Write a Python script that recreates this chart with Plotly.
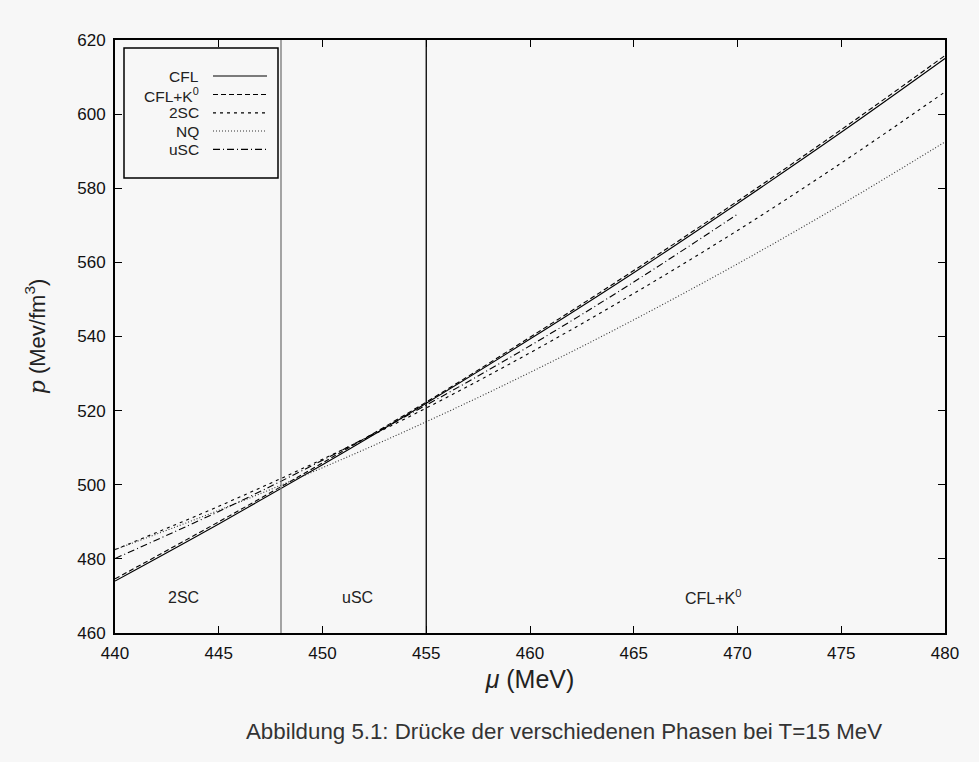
import plotly.graph_objects as go

# ---- data ----
mu = [440, 445, 450, 455, 460, 465, 470, 475, 480]
p_cfl = [474.0, 489.4, 505.4, 522.0, 539.3, 557.2, 575.9, 595.1, 615.0]
p_cflk0 = [474.6, 490.0, 505.9, 522.3, 539.8, 557.8, 576.5, 595.8, 615.8]
p_2sc = [482.5, 494.2, 506.9, 520.7, 535.6, 551.6, 568.6, 586.8, 606.0]
p_nq = [482.5, 493.1, 504.6, 517.0, 530.3, 544.5, 559.6, 575.6, 592.5]
mu_usc = [440, 445, 450, 455, 460, 465, 470]
p_usc = [480.1, 492.8, 506.6, 521.5, 537.5, 554.7, 573.0]

series_names = ["CFL", "CFL+K<sup>0</sup>", "2SC", "NQ", "uSC"]
series_dash = ["solid", "5px,3px", "3px,4px", "1px,2px", "7px,3px,1px,3px"]
series_color = ["#000000", "#000000", "#000000", "#333333", "#000000"]
series_x = [mu, mu, mu, mu, mu_usc]
series_y = [p_cfl, p_cflk0, p_2sc, p_nq, p_usc]

phase_bounds = [448, 455]
phase_bound_colors = ["#777777", "#000000"]
phase_labels = ["2SC", "uSC", "CFL+K<sup>0</sup>"]
phase_label_x = [443.3, 451.7, 468.8]
phase_label_y = 469.7

x_ticks = [440, 445, 450, 455, 460, 465, 470, 475, 480]
y_ticks = [460, 480, 500, 520, 540, 560, 580, 600, 620]

BG = "#f7f7f7"
FONT = "Liberation Sans, Arial, sans-serif"

fig = go.Figure()
for name, xs, ys, dash, col in zip(series_names, series_x, series_y, series_dash, series_color):
    fig.add_trace(go.Scatter(x=xs, y=ys, mode="lines", name=name,
                             line=dict(color=col, width=1.1, dash=dash, shape="spline"),
                             showlegend=False))

for xb, c in zip(phase_bounds, phase_bound_colors):
    fig.add_shape(type="line", xref="x", yref="paper", x0=xb, x1=xb, y0=0, y1=1,
                  line=dict(color=c, width=1.3))

for lab, lx in zip(phase_labels, phase_label_x):
    fig.add_annotation(x=lx, y=phase_label_y, xref="x", yref="y", text=lab,
                       showarrow=False, font=dict(size=16, color="#222", family=FONT))

# ---- custom legend (gnuplot style: text left, sample right) ----
W, H = 830.0, 593.0
def px(x): return (x - 115) / W
def py(y): return (633 - y) / H

fig.add_shape(type="rect", xref="paper", yref="paper",
              x0=px(124), x1=px(278), y0=py(178), y1=py(48),
              line=dict(color="#000", width=1.5), fillcolor=BG, layer="above")
row_y = [76, 94.5, 112.8, 131, 149.3]
for name, dash, col, ry in zip(series_names, series_dash, series_color, row_y):
    fig.add_annotation(x=px(201), y=py(ry), xref="paper", yref="paper", text=name,
                       xanchor="right", yanchor="middle", showarrow=False,
                       font=dict(size=15.5, color="#222", family=FONT))
    fig.add_shape(type="line", xref="paper", yref="paper",
                  x0=px(213), x1=px(267), y0=py(ry), y1=py(ry),
                  line=dict(color=col, width=1.2, dash=dash), layer="above")

fig.add_annotation(x=px(564), y=py(731), xref="paper", yref="paper",
                   text="Abbildung 5.1: Drücke der verschiedenen Phasen bei T=15 MeV",
                   showarrow=False, xanchor="center", yanchor="middle",
                   font=dict(size=22.3, color="#333", family=FONT))

axis_common = dict(showgrid=False, zeroline=False, ticks="inside", ticklen=7,
                   tickwidth=1.2, tickcolor="#000", showline=True, linecolor="#000",
                   linewidth=2, mirror="allticks", ticklabelstandoff=4,
                   tickfont=dict(size=17, color="#111", family=FONT))

fig.update_xaxes(range=[440, 480], tickvals=x_ticks,
                 title=dict(text="<i>μ</i> (MeV)", font=dict(size=25, color="#222", family=FONT),
                            standoff=8), **axis_common)
fig.update_yaxes(range=[460, 620], tickvals=y_ticks,
                 title=dict(text="<span style='font-family:DejaVu Serif'><i>p</i></span> (Mev/fm<sup>3</sup>)",
                            font=dict(size=22, color="#222", family=FONT), standoff=26),
                 **axis_common)

fig.update_layout(width=979, height=762, paper_bgcolor=BG, plot_bgcolor=BG,
                  margin=dict(l=115, r=34, t=40, b=129), showlegend=False)

fig.write_html("out.html")
